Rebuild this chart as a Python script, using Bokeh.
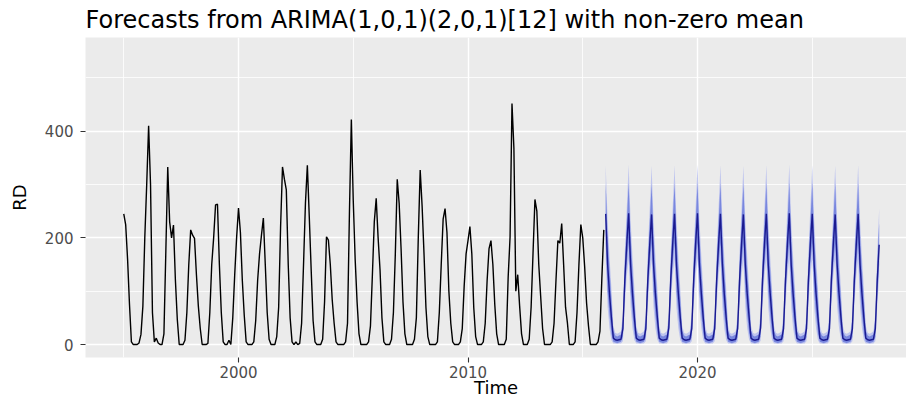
from bokeh.plotting import figure
from bokeh.models import FixedTicker, Range1d, ColumnDataSource
from bokeh.embed import file_html
from bokeh.resources import INLINE

# ---------------- data (monthly) ----------------
history_start = 1995
rd_history = [
    245, 225, 160, 75, 5, 0, 0, 0, 3, 19, 72, 200,      # 1995
    300, 410, 300, 60, 5, 12, 3, 0, 0, 20, 174, 333,    # 1996
    230, 200, 224, 121, 47, 0, 0, 0, 8, 60, 150, 215,   # 1997
    205, 199, 131, 72, 30, 0, 0, 0, 2, 60, 150, 200,    # 1998
    262, 263, 150, 60, 5, 0, 0, 8, 0, 50, 130, 200,     # 1999
    256, 210, 120, 55, 5, 0, 0, 0, 5, 45, 120, 170,     # 2000
    205, 237, 150, 60, 10, 0, 0, 0, 15, 70, 220, 333,   # 2001
    310, 290, 150, 50, 5, 0, 5, 0, 2, 40, 150, 265,     # 2002
    336, 240, 140, 45, 5, 0, 0, 0, 10, 80, 202, 196,    # 2003
    150, 84, 40, 5, 0, 0, 0, 0, 5, 40, 246, 422,        # 2004
    270, 160, 80, 20, 0, 0, 0, 0, 5, 35, 130, 230,      # 2005
    274, 200, 140, 50, 5, 0, 0, 0, 10, 60, 170, 310,    # 2006
    265, 180, 80, 20, 0, 0, 0, 0, 10, 50, 200, 327,     # 2007
    260, 170, 70, 15, 0, 0, 0, 0, 5, 60, 150, 235,      # 2008
    255, 210, 100, 40, 5, 0, 0, 0, 5, 30, 110, 170,     # 2009
    195, 221, 170, 70, 15, 0, 0, 0, 5, 40, 120, 180,    # 2010
    195, 150, 75, 20, 0, 0, 0, 0, 10, 126, 202, 452,    # 2011
    368, 100, 131, 72, 20, 0, 0, 0, 10, 70, 171, 272,   # 2012
    250, 150, 90, 30, 0, 0, 0, 0, 5, 40, 120, 195,      # 2013
    190, 227, 150, 70, 40, 0, 0, 0, 5, 60, 150, 225,    # 2014
    200, 146, 78, 35, 0, 0, 0, 0, 5, 25, 125, 215,      # 2015
]

forecast_start = 2016
fc_mean = [
    245, 150, 95, 50, 12, 9, 8, 9, 10, 30, 121, 187,    # 2016
    246, 151, 96, 50, 12, 9, 8, 9, 10, 30, 120, 186,    # 2017
    244, 150, 95, 51, 12, 9, 8, 9, 10, 31, 121, 187,    # 2018
    245, 149, 95, 50, 12, 9, 8, 9, 10, 30, 121, 188,    # 2019
    246, 150, 96, 50, 12, 9, 8, 9, 10, 30, 120, 187,    # 2020
    245, 151, 95, 50, 12, 9, 8, 9, 10, 30, 121, 186,    # 2021
    244, 150, 95, 51, 12, 9, 8, 9, 10, 31, 121, 187,    # 2022
    245, 150, 96, 50, 12, 9, 8, 9, 10, 30, 120, 187,    # 2023
    246, 149, 95, 50, 12, 9, 8, 9, 10, 30, 121, 188,    # 2024
    245, 150, 95, 50, 12, 9, 8, 9, 10, 30, 121, 187,    # 2025
    244, 151, 96, 51, 12, 9, 8, 9, 10, 30, 120, 186,    # 2026
    245, 150, 95, 50, 12, 9, 8, 9, 10, 30, 121, 187,    # 2027
]
fc_hi95 = [
    336, 235, 165, 105, 35, 22, 20, 22, 25, 60, 175, 255,
    337, 236, 166, 105, 35, 22, 20, 22, 25, 60, 174, 254,
    335, 235, 165, 106, 35, 22, 20, 22, 25, 61, 175, 255,
    336, 234, 165, 105, 35, 22, 20, 22, 25, 60, 175, 256,
    337, 235, 166, 105, 35, 22, 20, 22, 25, 60, 174, 255,
    336, 236, 165, 105, 35, 22, 20, 22, 25, 60, 175, 254,
    335, 235, 165, 106, 35, 22, 20, 22, 25, 61, 175, 255,
    336, 235, 166, 105, 35, 22, 20, 22, 25, 60, 174, 255,
    337, 234, 165, 105, 35, 22, 20, 22, 25, 60, 175, 256,
    336, 235, 165, 105, 35, 22, 20, 22, 25, 60, 175, 255,
    335, 236, 166, 106, 35, 22, 20, 22, 25, 60, 174, 254,
    336, 235, 165, 105, 35, 22, 20, 22, 25, 60, 175, 255,
]
fc_hi80 = [
    302, 205, 140, 85, 26, 17, 15, 17, 19, 48, 155, 228,
    303, 206, 141, 85, 26, 17, 15, 17, 19, 48, 154, 227,
    301, 205, 140, 86, 26, 17, 15, 17, 19, 49, 155, 228,
    302, 204, 140, 85, 26, 17, 15, 17, 19, 48, 155, 229,
    303, 205, 141, 85, 26, 17, 15, 17, 19, 48, 154, 228,
    302, 206, 140, 85, 26, 17, 15, 17, 19, 48, 155, 227,
    301, 205, 140, 86, 26, 17, 15, 17, 19, 49, 155, 228,
    302, 205, 141, 85, 26, 17, 15, 17, 19, 48, 154, 228,
    303, 204, 140, 85, 26, 17, 15, 17, 19, 48, 155, 229,
    302, 205, 140, 85, 26, 17, 15, 17, 19, 48, 155, 228,
    301, 206, 141, 86, 26, 17, 15, 17, 19, 48, 154, 227,
    302, 205, 140, 85, 26, 17, 15, 17, 19, 48, 155, 228,
]
fc_lo80 = [
    190, 100, 55, 20, 5, 4, 3, 4, 5, 14, 90, 150,
    191, 101, 56, 20, 5, 4, 3, 4, 5, 14, 89, 149,
    189, 100, 55, 21, 5, 4, 3, 4, 5, 15, 90, 150,
    190, 99, 55, 20, 5, 4, 3, 4, 5, 14, 90, 151,
    191, 100, 56, 20, 5, 4, 3, 4, 5, 14, 89, 150,
    190, 101, 55, 20, 5, 4, 3, 4, 5, 14, 90, 149,
    189, 100, 55, 21, 5, 4, 3, 4, 5, 15, 90, 150,
    190, 100, 56, 20, 5, 4, 3, 4, 5, 14, 89, 150,
    191, 99, 55, 20, 5, 4, 3, 4, 5, 14, 90, 151,
    190, 100, 55, 20, 5, 4, 3, 4, 5, 14, 90, 150,
    189, 101, 56, 21, 5, 4, 3, 4, 5, 14, 89, 149,
    190, 100, 55, 20, 5, 4, 3, 4, 5, 14, 90, 150,
]
fc_lo95 = [
    160, 70, 30, 8, 2, 2, 1, 2, 2, 6, 72, 128,
    161, 71, 31, 8, 2, 2, 1, 2, 2, 6, 71, 127,
    159, 70, 30, 9, 2, 2, 1, 2, 2, 7, 72, 128,
    160, 69, 30, 8, 2, 2, 1, 2, 2, 6, 72, 129,
    161, 70, 31, 8, 2, 2, 1, 2, 2, 6, 71, 128,
    160, 71, 30, 8, 2, 2, 1, 2, 2, 6, 72, 127,
    159, 70, 30, 9, 2, 2, 1, 2, 2, 7, 72, 128,
    160, 70, 31, 8, 2, 2, 1, 2, 2, 6, 71, 128,
    161, 69, 30, 8, 2, 2, 1, 2, 2, 6, 72, 129,
    160, 70, 30, 8, 2, 2, 1, 2, 2, 6, 72, 128,
    159, 71, 31, 9, 2, 2, 1, 2, 2, 6, 71, 127,
    160, 70, 30, 8, 2, 2, 1, 2, 2, 6, 72, 128,
]

x_major_ticks = [2000, 2010, 2020]
x_minor_ticks = [1995, 2005, 2015, 2025]
y_major_ticks = [0, 200, 400]
y_minor_ticks = [100, 300, 500]

title_text = "Forecasts from ARIMA(1,0,1)(2,0,1)[12] with non-zero mean"
x_label = "Time"
y_label = "RD"

# ---------------- sources ----------------
hist_t = [history_start + i / 12 for i in range(len(rd_history))]
fc_t = [forecast_start + i / 12 for i in range(len(fc_mean))]
hist_src = ColumnDataSource(dict(t=hist_t, y=rd_history))
fc_src = ColumnDataSource(dict(t=fc_t, mean=fc_mean, lo80=fc_lo80, hi80=fc_hi80,
                               lo95=fc_lo95, hi95=fc_hi95))

FONT = "DejaVu Sans"

p = figure(width=906, height=400, output_backend="svg", toolbar_location=None,
           title=title_text,
           x_range=Range1d(1993.333, 2029.107), y_range=Range1d(-24.3, 575.7),
           min_border_left=85, min_border_right=0, min_border_top=37, min_border_bottom=42)

p.background_fill_color = "#EBEBEB"
p.border_fill_color = "white"
p.outline_line_color = None

# title
p.title.text_font = FONT
p.title.text_font_size = "24px"
p.title.text_font_style = "normal"
p.title.text_color = "black"
p.title.align = "left"
p.title.standoff = 7
p.title.offset = 0

# grids
p.xaxis.ticker = FixedTicker(ticks=x_major_ticks, minor_ticks=x_minor_ticks)
p.yaxis.ticker = FixedTicker(ticks=y_major_ticks, minor_ticks=y_minor_ticks)
for g in (p.xgrid, p.ygrid):
    g.grid_line_color = "white"
    g.grid_line_width = 1.4
    g.minor_grid_line_color = "white"
    g.minor_grid_line_width = 0.8

# axes
for ax in (p.xaxis, p.yaxis):
    ax.axis_line_color = None
    ax.minor_tick_line_color = None
    ax.major_tick_line_color = "#333333"
    ax.major_tick_line_width = 1.1
    ax.major_tick_out = 5
    ax.major_tick_in = 0
    ax.major_label_text_font = FONT
    ax.major_label_text_font_size = "15px"
    ax.major_label_text_color = "#4D4D4D"
    ax.axis_label_text_font = FONT
    ax.axis_label_text_font_size = "18px"
    ax.axis_label_text_font_style = "normal"
    ax.axis_label_text_color = "black"
p.xaxis.axis_label = x_label
p.yaxis.axis_label = y_label
p.xaxis.major_label_standoff = 3
p.yaxis.major_label_standoff = 7
p.xaxis.axis_label_standoff = -4
p.yaxis.axis_label_standoff = 12

# prediction intervals and lines
p.varea(x="t", y1="lo95", y2="hi95", source=fc_src, fill_color="#B9C0EE", fill_alpha=0.9)
p.varea(x="t", y1="lo80", y2="hi80", source=fc_src, fill_color="#6D7CDB", fill_alpha=0.85)
p.line(x="t", y="mean", source=fc_src, line_color="#1A1A90", line_width=1.4)
p.line(x="t", y="y", source=hist_src, line_color="black", line_width=1.4)

open("out.html", "w").write(file_html(p, INLINE))
